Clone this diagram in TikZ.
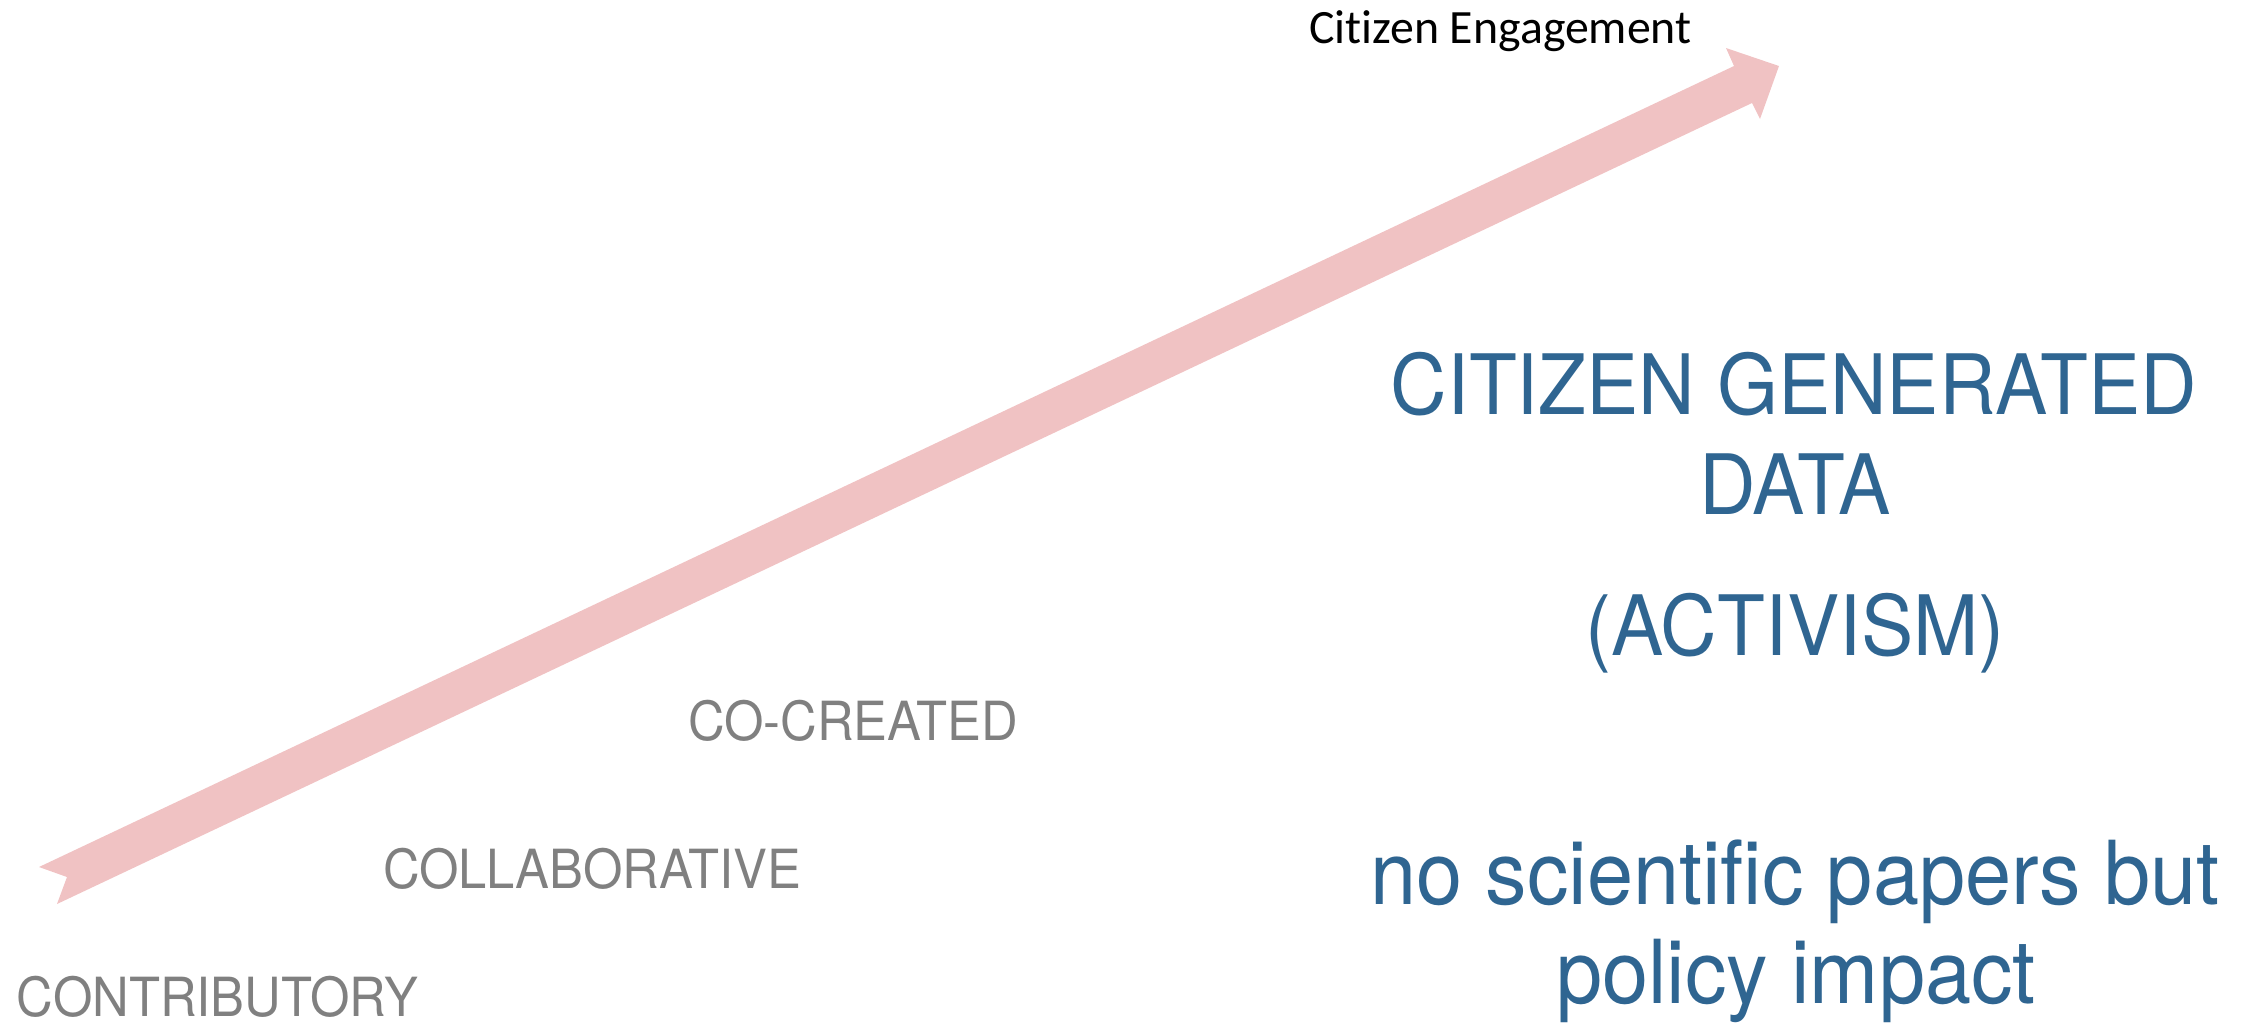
\documentclass[tikz,border=0pt]{standalone}
\usepackage{fontspec}
\setmainfont{TeX Gyre Heros}[FakeStretch=0.94]
\newfontfamily\calfont{Carlito}[Ligatures={NoCommon,NoContextual}]
\definecolor{arrowpink}{RGB}{240,194,195}
\definecolor{titleblue}{RGB}{47,101,145}
\definecolor{levelgray}{RGB}{128,128,128}
\begin{document}
\begin{tikzpicture}[x=0.01cm,y=-0.01cm,
  every node/.style={inner sep=0pt,outer sep=0pt},
  level/.style={anchor=base west,text=levelgray,font=\fontsize{15.35pt}{18pt}\selectfont},
  bigcaps/.style={anchor=base,text=titleblue,font=\fontsize{23.7pt}{28pt}\selectfont},
  biglower/.style={anchor=base,text=titleblue,font=\fontsize{25.1pt}{28pt}\selectfont},
  axislabel/.style={anchor=base west,text=black,font=\calfont\fontsize{13.6pt}{16pt}\selectfont}]
\useasboundingbox (0,0) rectangle (2256,1023);
% engagement arrow (notched tail)
\fill[arrowpink] (39,867) -- (67,877) -- (57,904) -- (1752,103) -- (1760,119)
  -- (1779,66) -- (1726,48) -- (1734,66) -- cycle;
\node[axislabel] (eng) at (1309,43) {Ci\kern0pt t\kern0pt izen Engagement};
% levels
\node[level] (contrib) at (17,1016) {CONTRIBUTORY};
\node[level] (collab) at (383,888) {COLLABORATIVE};
\node[level] (cocreated) at (688,740) {CO-CREATED};
% right-hand text
\node[bigcaps] (cgd1) at (1794,414) {CITIZEN GENERATED};
\node[bigcaps] (cgd2) at (1795,514) {DATA};
\node[bigcaps] (act) at (1795,655) {(ACTIVISM)};
\node[biglower] (nsp1) at (1795,904) {no scientific papers but};
\node[biglower] (nsp2) at (1796,1003) {policy impact};
\end{tikzpicture}
\end{document}
